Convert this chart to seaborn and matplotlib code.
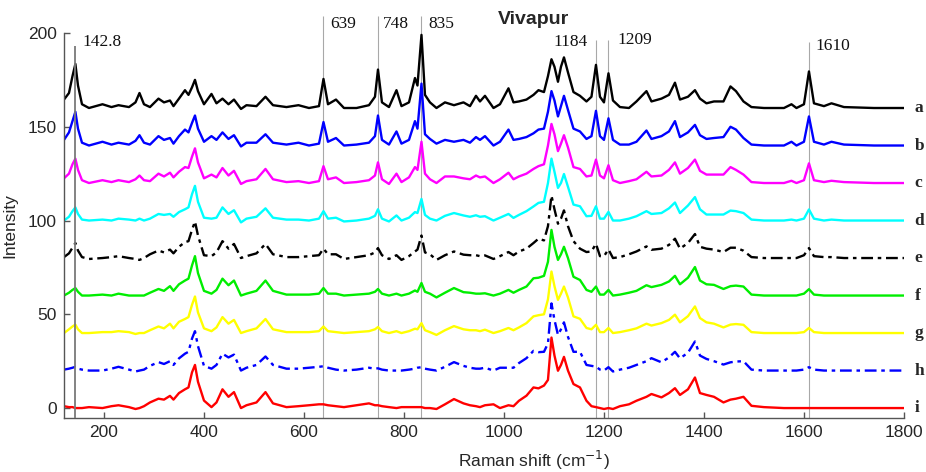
import numpy as np
import pandas as pd
import matplotlib
matplotlib.use("Agg")
import matplotlib.pyplot as plt
import seaborn as sns

# Raman shift grid (cm^-1) shared by all spectra
shift = [120, 130, 137, 142.8, 148, 156, 170, 197, 215, 229, 250, 263, 271, 280, 292, 309, 320, 332, 339, 350,
         362, 369, 376, 382, 388, 400, 415, 425, 437, 449, 460, 474, 485, 505, 523, 538, 565, 589, 610, 630,
         639, 648, 664, 680, 705, 730, 742, 748, 756, 770, 785, 795, 810, 822, 827, 835, 842, 852, 865, 882,
         900, 919, 932, 944, 952, 962, 979, 992, 1009, 1019, 1030, 1045, 1059, 1069, 1080, 1088, 1095, 1101, 1108, 1114,
         1120, 1128, 1139, 1152, 1165, 1175, 1184, 1192, 1200, 1209, 1218, 1232, 1250, 1265, 1285, 1295, 1315, 1330, 1342, 1352,
         1368, 1382, 1392, 1405, 1420, 1439, 1453, 1464, 1479, 1495, 1520, 1560, 1575, 1585, 1600, 1610, 1620, 1640, 1655, 1680,
         1740, 1800]

# Intensities above each spectrum's own baseline
trace_a = [4.5, 8, 17, 23.5, 12, 2, 0, 2, 0.5, 1.5, 0.5, 3, 8, 2, 0.5, 5, 3, 4, 1, 5,
           9.5, 7, 11, 15, 9, 2, 7.5, 2.5, 5, 2, 4.5, -0.5, 1.5, 1, 6, 1.5, 0.5, 1.5, 0, 1,
           15.5, 2, 4.5, 0, 0, 1.5, 6, 20.5, 3, 0.5, 9.5, 1, 3, 16, 12, 39, 7, 3, 0, 3,
           1.5, 3, 1, 6.5, 3.5, 6.5, 0, 2, 10.5, 3, 3.5, 4.5, 7, 9.5, 8.5, 17, 26, 22, 14, 22,
           27, 19, 8.5, 6.5, 3.5, 6, 23, 6, 3, 18.5, 4, 0.5, 0, 3.5, 9, 3.5, 5, 7, 13.5, 4.5,
           6, 9.5, 5, 2.5, 3.5, 3.5, 11.5, 9, 3.5, 0.5, 0, 0, 2, 0, 2, 19.5, 2.5, 1, 2.5, 0.5,
           0, 0]
trace_b = [3, 7, 13, 18, 9, 1.5, 0, 2, 0.5, 1.5, 0.5, 2.5, 5.5, 1.5, 0.5, 5, 3, 4, 1, 5,
           8.5, 7, 12, 16, 9, 2, 5, 3, 7, 3.5, 5.5, -0.5, 1.5, 1.5, 6, 1.5, 0.5, 1.5, 0, 1,
           12.5, 2, 4, 0, 0.5, 1.5, 5, 16, 3, 0.5, 7.5, 1, 3, 13, 9, 33, 6, 3.5, 1, 3,
           2, 3, 1.5, 4.5, 3, 5, 0, 2, 8.5, 3, 3.5, 4.5, 6.5, 8.5, 9, 18, 29, 24, 15.5, 21,
           26.5, 19, 9, 7.5, 3.5, 5, 18.5, 5, 3, 14.5, 3, 0.5, 0.5, 2, 8, 3.5, 5, 7.5, 13, 4.5,
           7, 11, 5.5, 3.5, 4, 4.5, 10, 8.5, 4, 0.5, 0, 0, 2, 0, 2, 15.5, 2, 0.5, 2, 0.5,
           0, 0]
trace_c = [2.5, 5, 10, 13, 7, 1.5, 0, 1.5, 0.5, 1.5, 0.5, 2, 4, 1.5, 1, 5, 3.5, 5.5, 3, 6,
           8.5, 8, 14, 18.5, 11, 2.5, 4.5, 3, 8, 4, 6.5, -0.5, 1, 2, 7.5, 2, 0.5, 1, 0, 1,
           9, 2, 3, 0, 0.5, 1.5, 4, 11, 2, -0.5, 5, 0.5, 3, 8.5, 7, 22, 5, 2, 0, 3.5,
           3.5, 2.5, 2, 4, 3, 3.5, 0, 2, 5.5, 2, 3.5, 5, 7.5, 9, 10, 20, 31.5, 26, 17, 21,
           25.5, 19, 8.5, 7.5, 3.5, 4, 12.5, 4, 2.5, 9.5, 1.5, 0, 1, 2, 6, 3.5, 4, 7, 11, 5,
           8, 12.5, 6.5, 4.5, 4.5, 4.5, 8.5, 7, 4.5, 0.5, 0, 0, 1.2, 0, 1.5, 10.5, 1.5, 0.5, 1.2, 0.5,
           0, 0]
trace_d = [0, 2, 5, 7, 3.5, 0.5, 0, 0.5, 0, 1, 0.5, 0, 1, 0, 1, 3.5, 3, 3.5, 2, 4.5,
           6, 7, 14, 18.5, 10, 1.5, 1, 1.5, 7, 3.5, 5.5, -1, 1, 2, 6.5, 1.5, 0.5, 0.5, 0, 1,
           5, 1, 1.5, -0.5, 0, 1, 2.5, 6, 1, -0.5, 2.7, 0, 1.5, 4.5, 4, 11.5, 3, 1, 0, 2.5,
           4, 2.7, 2, 2.8, 2, 2.3, 0, 1.5, 3.5, 1.4, 3, 5, 7.5, 9.4, 10, 20, 33, 26, 17.4, 20,
           24.8, 18, 8.5, 7.6, 2.3, 2.5, 7.6, 1, 1, 4.6, 0, 0, 1, 2.3, 5, 3.5, 4, 6.5, 9.6, 4,
           8, 12.5, 6, 3.2, 3.2, 3.2, 5.3, 5, 4, 0.5, 0, 0, 0.5, 0, 1, 5.9, 1, 0, 0.5, 0,
           0, 0]
trace_e = [0.5, 2.5, 5.5, 8, 4, 0.5, -0.5, 0, 0.5, 1, 0, -0.5, -1, 0, 2, 4, 3, 4.5, 2.5, 6,
           8.5, 9, 15, 19.5, 12, 1.5, 1, 3, 9, 5, 7.5, 0, 1, 2.5, 7.5, 2, 0.5, 0.5, 1, 1.5,
           5, 2, 2, -0.5, 0.5, 1.5, 3, 5.3, 1.5, -0.5, 1.5, -1, 1, 3.5, 4.5, 12, 3, 2, -1, 1.5,
           3.5, 1.8, 1.5, 1.5, 1, 1.4, -0.5, 1, 3.2, 1.5, 3.5, 5, 8, 10.3, 9.4, 17, 33.3, 26, 18.3, 21,
           25.4, 17, 9, 5, 3.2, 3.5, 7.6, 1, 1, 4.6, 0, 0.5, 2, 3.5, 6.2, 4.4, 5, 7, 10.3, 5,
           8, 12.8, 6, 5, 4.5, 3.2, 5.5, 5.5, 3.9, 0.5, 0, 0, 0, 0, 1.5, 5.3, 1, 0.5, 0.5, 0,
           0, 0]
trace_f = [0, 1.5, 3, 4, 2, 0, 0, 0.5, 0, 1, 0, 0, 0, 0, 1.5, 3.5, 2.5, 5, 2.5, 6,
           8, 9, 16, 21, 12, 2.5, 1, 3, 9, 5.5, 8, 0, 1, 2.5, 8, 2.5, 0.5, 0.5, 0.5, 1,
           4, 1, 1, 0, 0.5, 1, 2, 3.5, 1, 0, 1, 0, 1, 2.7, 2, 6.7, 2, 1, -1, 1.5,
           4, 1.8, 1.5, 1, 1, 1.2, 0, 1, 3, 1.5, 3, 4.8, 9.2, 9.5, 10.5, 18, 35, 26, 19, 22,
           26, 20, 10, 8.3, 3, 2, 4.8, 0.5, 0.5, 3, 0, 0.5, 1.5, 2.5, 5.5, 4.5, 5.7, 7.5, 10.5, 6,
           9.5, 15.2, 8, 6, 5.7, 3.5, 5, 5.3, 4.8, 0.5, 0, 0, 0, 0, 1, 3.4, 0.5, 0, 0, 0,
           0, 0]
trace_g = [0, 2, 3.5, 4.5, 2, 0, 0, 0.5, 0.5, 1, 0.5, -0.5, 0, 0, 1.5, 3.5, 2.5, 5, 2.5, 6,
           7.5, 8.5, 15, 19.5, 11, 2.5, 1, 3, 8.5, 5, 7, 0, 1, 2.5, 7.5, 2, 0.5, 0.5, 0.5, 1,
           3.5, 1, 0.5, 0, 0.5, 1, 2, 3.2, 1, 0, 1, 0, 1, 2.3, 2, 5.3, 1.5, 0.5, -1, 1.5,
           3.7, 2, 1.5, 1.5, 1, 1.8, 0, 1, 2.7, 1.5, 3, 5.3, 8.9, 9.5, 10, 18, 32.8, 25, 17.7, 21,
           24.8, 19, 8.9, 7.6, 2.7, 2, 4.4, 0.5, 0.5, 2.7, 0, 0.5, 1.5, 2.5, 5, 4, 5.3, 7, 9.8, 5.7,
           9, 14.2, 8, 5.7, 5, 3, 4.5, 4.8, 4.4, 0.5, 0, 0, 0, 0, 0.5, 2.7, 0.5, 0, 0, 0,
           0, 0]
trace_h = [0.5, 1, 1.5, 2, 1, 0.5, 0, 0, 1, 2, 0.5, -0.5, 0, 0.5, 2.5, 4.5, 3.5, 5, 3, 6.5,
           9, 10, 17, 21, 13, 2.5, 1, 3, 9, 7, 8.5, 0, 1.5, 3, 7.5, 3, 1, 1, 1.5, 2,
           2.3, 1.5, 0.5, 0, 0.5, 1.5, 1, 1.2, 0.5, 0, 0, 0, 0.5, 1, 1.5, 1.8, 1, 0.5, 0, 2,
           4.5, 2.5, 1.5, 1, 1, 1.5, 0, 1.5, 1.5, 1.5, 4, 6.6, 10.5, 9.8, 10, 14.5, 35.8, 27, 19, 22,
           25.7, 18, 10, 10, 3, 2.5, 2.1, 0.5, 0, 1.8, -0.5, 0.5, 1.5, 3, 5, 6.6, 4.4, 7, 10, 6.5,
           9.5, 15.5, 8, 6.2, 5, 3.2, 4.4, 4.8, 5, 0.5, 0, 0, 0, 0, 0.5, 1.8, 0.5, 0, 0, 0,
           0, 0]
trace_i = [1, 0.5, 0.5, 0, 0, 0, 0.5, 0, 1, 1.5, 0.5, -0.5, 0, 1, 3, 5, 4.5, 6.5, 4.5, 8,
           10, 11, 19, 23, 14, 4, 0.5, 3, 10, 6, 8.5, 0, 1.5, 3, 8.5, 2.5, 0.5, 1, 1.5, 2,
           2, 1.5, 1, 0.5, 1.5, 2.5, 1.5, 1.5, 1, 0.5, 0, 0.5, 0.5, 0.5, 0.5, 0.5, 0, 0, -0.5, 2,
           4.8, 2.5, 1.5, 1, 0.5, 1.5, 2, 0, 1.5, 1, 3.9, 6.6, 11, 10.5, 12, 15, 37.6, 28, 19.9, 23,
           27.3, 20, 12.8, 11, 3.9, 1, 0.5, 0, -0.5, 0, -0.5, 1, 2, 3.9, 6, 7.5, 5.7, 8, 10.6, 7,
           10, 16.3, 8, 7, 6, 3, 4.5, 5, 6, 1.2, 0.5, 0, 0, 0, 0, 0, 0, 0, 0, 0,
           0, 0]

samples = ["a", "b", "c", "d", "e", "f", "g", "h", "i"]
spectra = [trace_a, trace_b, trace_c, trace_d, trace_e, trace_f, trace_g, trace_h, trace_i]
offsets = [160, 140, 120, 100, 80, 60, 40, 20, 0]

# Marked band positions (cm^-1)
bands = [142.8, 639, 748, 835, 1184, 1209, 1610]

# Styling
colors = ["#000000", "#0000ff", "#ff00ff", "#00ffff", "#000000", "#00ee00", "#ffff00", "#0000ff", "#ff0000"]
dashdot = (5, 2, 1.5, 2)
dash_map = {"a": "", "b": "", "c": "", "d": "", "e": dashdot, "f": "", "g": "", "h": dashdot, "i": ""}

frames = []
for name, vals, off in zip(samples, spectra, offsets):
    frames.append(pd.DataFrame({"shift": shift,
                                "intensity": np.asarray(vals, dtype=float) + off,
                                "sample": name}))
df = pd.concat(frames, ignore_index=True)

sns.set_theme(style="ticks")
plt.rcParams["font.family"] = ["Liberation Sans", "DejaVu Sans"]

fig = plt.figure(figsize=(9.26, 4.72), dpi=100)
ax = fig.add_axes([0.0691, 0.1144, 0.9071, 0.8157])

sns.lineplot(data=df, x="shift", y="intensity", hue="sample", style="sample",
             palette=dict(zip(samples, colors)), dashes=dash_map,
             estimator=None, sort=False, legend=False, linewidth=1.7, ax=ax, zorder=2)

ax.set_xlim(120, 1800)
ax.set_ylim(-5.3, 200)
ax.set_xticks(range(200, 1801, 200))
ax.set_yticks([0, 50, 100, 150, 200])

# Vertical band markers with their labels
line_tops = [193, 209, 209, 209, 196, 196, 195]
label_pos = [(156, 195), (652, 205), (758, 205), (848, 205), (1098, 195), (1226, 196), (1622, 193)]
for k, (b, top, (tx, ty)) in enumerate(zip(bands, line_tops, label_pos)):
    if k == 0:
        ax.vlines(b, -5.3, top, color="#7a7a7a", lw=1.3, zorder=3, clip_on=False)
    else:
        ax.vlines(b, -5.3, top, color="#a8a8a8", lw=0.8, zorder=1, clip_on=False)
    ax.text(tx, ty, f"{b:g}", family=["Liberation Serif", "DejaVu Serif"], fontsize=12.5,
            color="#111111", ha="left", va="center", clip_on=False)

# Sample letters at the right end of each spectrum
for name, off in zip(samples, offsets):
    ax.text(1821, off, name, family=["Liberation Serif", "DejaVu Serif"], fontsize=12.5,
            fontweight="bold", ha="left", va="center", clip_on=False)

ax.text(1060, 207, "Vivapur", fontsize=14, fontweight="bold", ha="center", va="center")

ax.set_xlabel("Raman shift (cm$^{-1}$)", fontsize=12.5, color="#262626")
ax.xaxis.set_label_coords(0.56, -0.08)
ax.xaxis.label.set_va("top")
ax.set_ylabel("Intensity", fontsize=12.5, color="#262626")
ax.yaxis.set_label_coords(-0.055, 0.5)

for side in ["top", "right"]:
    ax.spines[side].set_visible(False)
for side in ["left", "bottom"]:
    ax.spines[side].set_color("#555555")
    ax.spines[side].set_linewidth(1.0)
ax.tick_params(direction="in", length=4, width=1.0, color="#555555",
               labelsize=12.5, labelcolor="#262626", pad=5)

fig.savefig("out.png", dpi=100)
